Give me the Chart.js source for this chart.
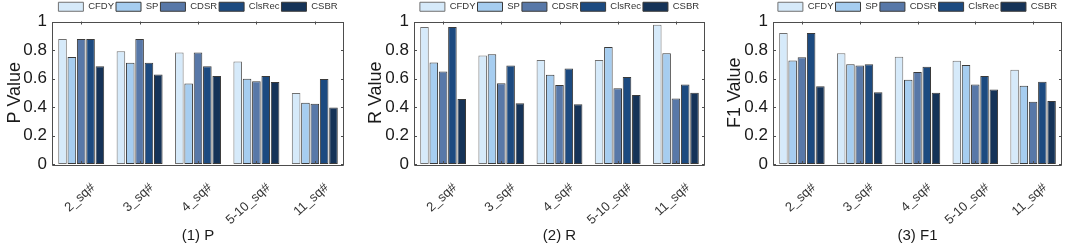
<!DOCTYPE html>
<html>
<head>
<meta charset="utf-8">
<script src="https://cdn.jsdelivr.net/npm/chart.js@4.4.1/dist/chart.umd.min.js"></script>
<style>
  html, body { margin: 0; padding: 0; background: #fff; }
  #wrap { position: relative; width: 1072px; height: 247px; overflow: hidden; }
  canvas { position: absolute; top: 0; }
</style>
</head>
<body>
<div id="wrap">
  <canvas id="chartP" width="357" height="247" style="left:0px"></canvas>
  <canvas id="chartR" width="352" height="247" style="left:360px"></canvas>
  <canvas id="chartF1" width="360" height="247" style="left:712px"></canvas>
</div>
<script>
// categories and methods
const categories = ['2_sq#', '3_sq#', '4_sq#', '5-10_sq#', '11_sq#'];
const methods = ['CFDY', 'SP', 'CDSR', 'ClsRec', 'CSBR'];
const methodColors = ['#d6eafa', '#a6cdf0', '#5878a8', '#1c4a80', '#153358'];
const yTicks = [0, 0.2, 0.4, 0.6, 0.8, 1];

// one row per method, values per category
const pValues = [
    [0.877, 0.791, 0.783, 0.720, 0.498],
    [0.751, 0.711, 0.565, 0.599, 0.430],
    [0.877, 0.877, 0.783, 0.581, 0.422],
    [0.877, 0.711, 0.686, 0.617, 0.596],
    [0.686, 0.628, 0.617, 0.576, 0.397]
];
const rValues = [
    [0.962, 0.762, 0.729, 0.729, 0.978],
    [0.713, 0.771, 0.626, 0.821, 0.778],
    [0.650, 0.567, 0.554, 0.531, 0.460],
    [0.962, 0.691, 0.670, 0.610, 0.558],
    [0.457, 0.426, 0.419, 0.484, 0.500]
];
const f1Values = [
    [0.919, 0.778, 0.753, 0.724, 0.661],
    [0.726, 0.700, 0.592, 0.695, 0.549],
    [0.749, 0.691, 0.646, 0.558, 0.437],
    [0.919, 0.700, 0.682, 0.617, 0.578],
    [0.545, 0.504, 0.500, 0.522, 0.442]
];

Chart.defaults.font.family = 'Arial, "Liberation Sans", sans-serif';
Chart.defaults.color = '#262626';

// MATLAB-like box with inward ticks
const boxAxes = {
    id: 'boxAxes',
    afterDatasetsDraw(chart) {
        const { ctx, chartArea: a, scales } = chart;
        ctx.save();
        ctx.strokeStyle = '#4d4d4d';
        ctx.lineWidth = 1;
        ctx.beginPath();
        ctx.rect(Math.round(a.left) + 0.5, Math.round(a.top) + 0.5,
                 Math.round(a.right - a.left) - 1, Math.round(a.bottom - a.top));
        yTicks.forEach(v => {
            const y = Math.round(scales.y.getPixelForValue(v)) + 0.5;
            ctx.moveTo(a.left, y); ctx.lineTo(a.left + 3, y);
            ctx.moveTo(a.right - 3, y); ctx.lineTo(a.right, y);
        });
        categories.forEach((c, i) => {
            const x = Math.round(scales.x.getPixelForValue(i)) + 0.5;
            ctx.moveTo(x, a.top); ctx.lineTo(x, a.top + 3);
            ctx.moveTo(x, a.bottom); ctx.lineTo(x, a.bottom - 3);
        });
        ctx.stroke();
        ctx.restore();
    }
};

function makePanel(canvasId, values, yTitle, caption, yWidth, rightPad, titlePad) {
    const datasets = methods.map((m, i) => ({
        label: m,
        data: values[i],
        backgroundColor: methodColors[i],
        borderColor: i === 0 ? '#707070' : '#3a3a3a',
        borderWidth: 1,
        borderSkipped: false,
        categoryPercentage: 0.8,
        barPercentage: 0.92
    }));

    return new Chart(document.getElementById(canvasId), {
        type: 'bar',
        data: { labels: categories, datasets },
        options: {
            responsive: false,
            animation: false,
            layout: { padding: { left: 0, right: rightPad, top: 0, bottom: 0 } },
            plugins: {
                legend: {
                    position: 'top',
                    fullSize: false,
                    labels: {
                        boxWidth: 25,
                        boxHeight: 9,
                        padding: 2,
                        color: '#333',
                        font: { size: 9.5, lineHeight: 1 }
                    }
                },
                title: {
                    display: true,
                    position: 'bottom',
                    fullSize: false,
                    text: caption,
                    color: '#1a1a1a',
                    font: { size: 15, weight: 'normal' },
                    padding: { top: 2, bottom: 2 }
                },
                tooltip: { enabled: false }
            },
            scales: {
                x: {
                    grid: { display: false, drawTicks: false },
                    border: { display: false },
                    ticks: {
                        autoSkip: false,
                        maxRotation: 42,
                        minRotation: 42,
                        labelOffset: 12,
                        padding: 16,
                        color: '#333',
                        font: { size: 13 }
                    },
                    afterFit: (scale) => { scale.height = 61; }
                },
                y: {
                    min: 0,
                    max: 1,
                    grid: { display: false, drawTicks: false },
                    border: { display: false },
                    ticks: {
                        stepSize: 0.2,
                        padding: 5,
                        color: '#1a1a1a',
                        font: { size: 17 },
                        callback: (v) => String(Math.round(v * 10) / 10)
                    },
                    title: {
                        display: true,
                        text: yTitle,
                        color: '#1a1a1a',
                        font: { size: 18 },
                        padding: { top: titlePad, bottom: 0 }
                    },
                    afterFit: (scale) => { scale.width = yWidth; }
                }
            }
        },
        plugins: [boxAxes]
    });
}

makePanel('chartP', pValues, 'P Value', '(1) P', 52, 13, 4);
makePanel('chartR', rValues, 'R Value', '(2) R', 54, 7, 5);
makePanel('chartF1', f1Values, 'F1 Value', '(3) F1', 61, 10, 12);
</script>
</body>
</html>
